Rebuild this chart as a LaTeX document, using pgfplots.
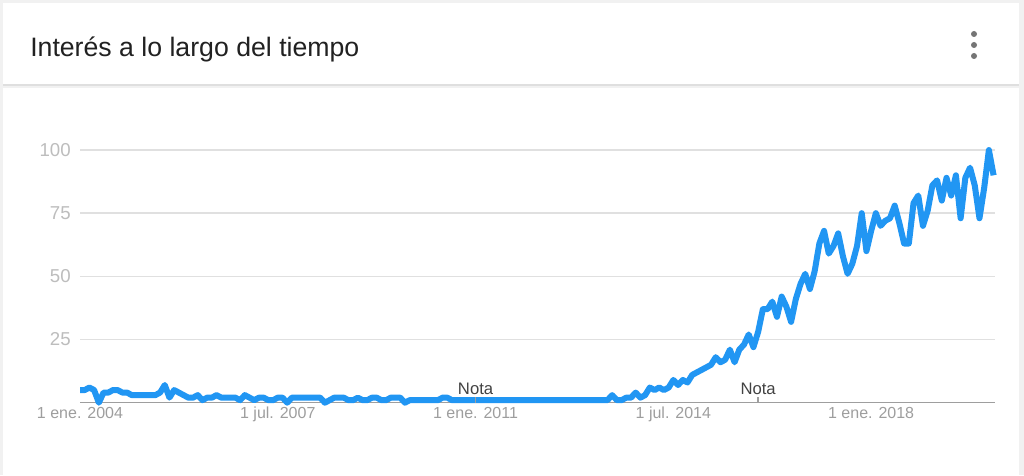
\documentclass[border=0pt]{standalone}
\usepackage{fontspec}
\setmainfont{Liberation Sans}
\usepackage{pgfplots}
\pgfplotsset{compat=1.18}
\usepackage{xcolor}
\definecolor{trendblue}{HTML}{2196F3}
\definecolor{pagegrey}{HTML}{F1F1F1}
\definecolor{gridgrey}{HTML}{E0E0E0}
\definecolor{axisgrey}{HTML}{9E9E9E}
\definecolor{ylabgrey}{HTML}{BDBDBD}
\definecolor{xlabgrey}{HTML}{9E9E9E}
\definecolor{titlegrey}{HTML}{212121}
\definecolor{dotgrey}{HTML}{757575}

\begin{document}
\begin{tikzpicture}[x=0.75pt,y=0.75pt]
% page and cards (pixel units, y counted from the bottom)
\path[use as bounding box, fill=pagegrey] (0,0) rectangle (1024,475);
\fill[white] (3,391) rectangle (1019,472);
\fill[gray!25] (3,389) rectangle (1019,391);
\fill[white] (3,0) rectangle (1019,387);
\node[anchor=base west, inner sep=0pt, text=titlegrey, font=\fontsize{20}{24}\selectfont]
  at (30,418) {Interés a lo largo del tiempo};
\foreach \yy in {441,430,419} \fill[dotgrey] (974,\yy) circle (3);
\coordinate (O) at (80,72.3);

\begin{axis}[
  at={(O)}, anchor=south west,
  scale only axis, width=686.25pt, height=189.5pt,
  xmin=0, xmax=194.3, ymin=0, ymax=100,
  axis lines*=left,
  x axis line style={axisgrey, line width=1.1pt},
  y axis line style={draw=none},
  major tick length=0pt,
  ytick={25,50,75,100},
  ymajorgrids, grid style={gridgrey, line width=1.1pt},
  xtick={0,42,84,126,168},
  xticklabels={1 ene. 2004, 1 jul. 2007, 1 ene. 2011, 1 jul. 2014, 1 ene. 2018},
  /pgf/number format/assume math mode=true,
  yticklabel style={anchor=east, inner sep=0pt, xshift=-6.75pt, text=ylabgrey,
    font=\fontsize{14}{16}\selectfont},
  xticklabel style={anchor=north, inner sep=0pt, yshift=-3pt, text=xlabgrey,
    font=\fontsize{12}{14}\selectfont},
  clip=false]
\addplot[trendblue, line width=4.5pt, line join=round, no marks] coordinates {
(0,5) (1,5) (2,6) (3,5) (4,0) (5,4) (6,4) (7,5) (8,5) (9,4)
(10,4) (11,3) (12,3) (13,3) (14,3) (15,3) (16,3) (17,4) (18,7) (19,2)
(20,5) (21,4) (22,3) (23,2) (24,2) (25,3) (26,1) (27,2) (28,2) (29,3)
(30,2) (31,2) (32,2) (33,2) (34,1) (35,3) (36,2) (37,1) (38,2) (39,2)
(40,1) (41,1) (42,2) (43,2) (44,0) (45,2) (46,2) (47,2) (48,2) (49,2)
(50,2) (51,2) (52,0) (53,1) (54,2) (55,2) (56,2) (57,1) (58,1) (59,2)
(60,1) (61,1) (62,2) (63,2) (64,1) (65,1) (66,2) (67,2) (68,2) (69,0)
(70,1) (71,1) (72,1) (73,1) (74,1) (75,1) (76,1) (77,2) (78,2) (79,1)
(80,1) (81,1) (82,1) (83,1) (84,1) (85,1) (86,1) (87,1) (88,1) (89,1)
(90,1) (91,1) (92,1) (93,1) (94,1) (95,1) (96,1) (97,1) (98,1) (99,1)
(100,1) (101,1) (102,1) (103,1) (104,1) (105,1) (106,1) (107,1) (108,1) (109,1)
(110,1) (111,1) (112,1) (113,3) (114,1) (115,1) (116,2) (117,2) (118,4) (119,2)
(120,3) (121,6) (122,5) (123,6) (124,5) (125,6) (126,9) (127,7) (128,9) (129,8)
(130,11) (131,12) (132,13) (133,14) (134,15) (135,18) (136,16) (137,17) (138,21) (139,16)
(140,21) (141,23) (142,27) (143,22) (144,28) (145,37) (146,37) (147,40) (148,34) (149,42)
(150,38) (151,32) (152,41) (153,47) (154,51) (155,45) (156,52) (157,63) (158,68) (159,59)
(160,62) (161,67) (162,58) (163,51) (164,55) (165,62) (166,75) (167,60) (168,68) (169,75)
(170,70) (171,72) (172,73) (173,78) (174,71) (175,63) (176,63) (177,79) (178,82) (179,70)
(180,76) (181,86) (182,88) (183,80) (184,89) (185,82) (186,90) (187,73) (188,89) (189,93)
(190,86) (191,73) (192,85) (193,100) (194,90)
};
\foreach \n in {84,144} {
  \edef\temp{\noexpand\draw[axisgrey, line width=1.1pt] (axis cs:\n,0) -- (axis cs:\n,2.4);
    \noexpand\node[anchor=base, inner sep=0pt, text=titlegrey!85, font=\noexpand\fontsize{12.5}{14}\noexpand\selectfont]
    at (axis cs:\n,3.4) {Nota};}
  \temp
}
\end{axis}
\end{tikzpicture}
\end{document}
